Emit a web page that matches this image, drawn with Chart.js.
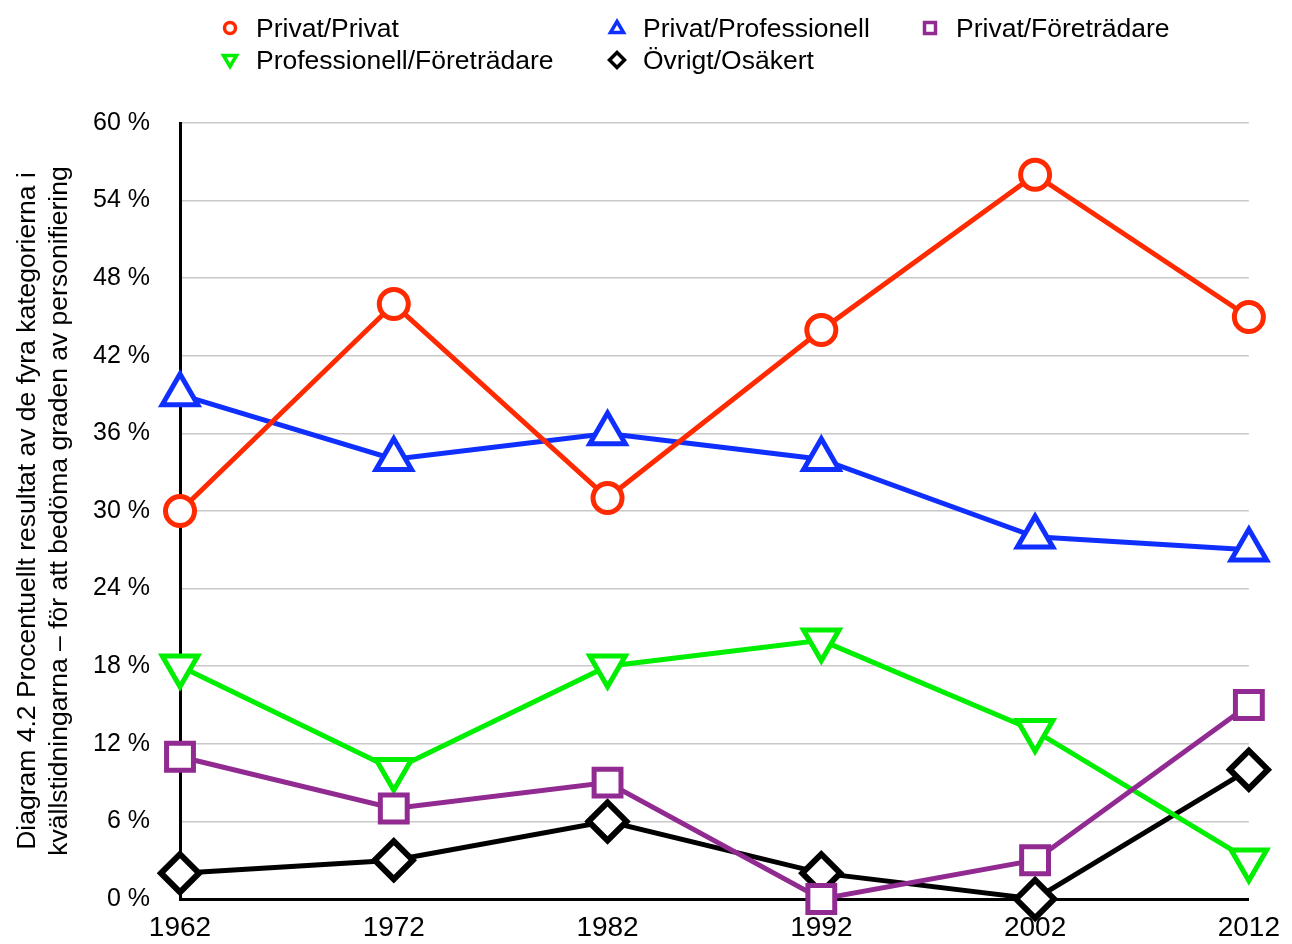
<!DOCTYPE html>
<html lang="sv">
<head>
<meta charset="utf-8">
<title>Diagram 4.2</title>
<script src="https://cdn.jsdelivr.net/npm/chart.js@4/dist/chart.umd.min.js"></script>
<style>
  html, body { margin: 0; padding: 0; background: #fff; }
  #wrap { position: relative; width: 1292px; height: 944px; overflow: hidden; }
  #chart { position: absolute; left: 0; top: 0; }
  #legend {
    position: absolute; left: 218px; top: 12px;
    display: grid; grid-template-columns: 387px 313px auto;
    grid-auto-rows: 32px;
    font-family: "Liberation Sans", Arial, Helvetica, sans-serif;
    font-size: 26.5px; color: #000;
  }
  .item { display: flex; align-items: center; white-space: nowrap; }
  .item svg { width: 24px; height: 24px; margin-right: 14px; flex: none; }
</style>
</head>
<body>
<div id="wrap">
  <canvas id="chart" width="1292" height="944"></canvas>
  <div id="legend"></div>
</div>
<script>
// Survey years on the x axis
const years = ['1962', '1972', '1982', '1992', '2002', '2012'];

// Share (%) per category and year
const privatPrivat             = [30, 46, 31, 44, 56, 45];
const privatProfessionell      = [39, 34, 36, 34, 28, 27];
const privatForetradare        = [11, 7, 9, 0, 3, 15];
const professionellForetradare = [18, 10, 18, 20, 13, 3];
const ovrigtOsakert            = [2, 3, 6, 2, 0, 10];

// Y axis range and step
const yMin = 0, yMax = 60, yStep = 6;

const axisTitle = [
  'Diagram 4.2 Procentuellt resultat av de fyra kategorierna i',
  'kvällstidningarna – för att bedöma graden av personifiering'
];

const FONT = '"Liberation Sans", Arial, Helvetica, sans-serif';

function series(label, data, color, style, radius, rotation, border) {
  return {
    label, data,
    borderColor: color,
    backgroundColor: color,
    borderWidth: 5,
    pointStyle: style,
    pointRadius: radius,
    pointHoverRadius: radius,
    pointRotation: rotation,
    pointBorderWidth: border,
    pointBackgroundColor: '#fff',
    pointBorderColor: color,
    tension: 0,
    clip: false,
    legendShape: style === 'triangle' && rotation === 180 ? 'down' : style
  };
}

const datasets = [
  series('Privat/Privat', privatPrivat, '#ff2a00', 'circle', 14.5, 0, 5),
  series('Privat/Professionell', privatProfessionell, '#0f2fff', 'triangle', 20.5, 0, 5),
  series('Privat/Företrädare', privatForetradare, '#912a91', 'rect', 19, 0, 5),
  series('Professionell/Företrädare', professionellForetradare, '#00ee00', 'triangle', 20.5, 180, 5),
  series('Övrigt/Osäkert', ovrigtOsakert, '#000000', 'rectRot', 19, 0, 6)
];

// Legend swatches
function swatch(shape, color) {
  let body = '';
  if (shape === 'circle') body = `<circle cx="12" cy="12" r="5.5" fill="#fff" stroke="${color}" stroke-width="3.5"/>`;
  else if (shape === 'triangle') body = `<polygon points="12,5.5 18.5,16.5 5.5,16.5" fill="#fff" stroke="${color}" stroke-width="3.5"/>`;
  else if (shape === 'down') body = `<polygon points="5.5,7.5 18.5,7.5 12,18.5" fill="#fff" stroke="${color}" stroke-width="3.5"/>`;
  else if (shape === 'rect') body = `<rect x="6.5" y="6.5" width="11" height="11" fill="#fff" stroke="${color}" stroke-width="3.5"/>`;
  else body = `<polygon points="12,4.5 19.5,12 12,19.5 4.5,12" fill="#fff" stroke="${color}" stroke-width="3.5"/>`;
  return `<svg viewBox="0 0 24 24">${body}</svg>`;
}
const legendEl = document.getElementById('legend');
datasets.forEach(ds => {
  const div = document.createElement('div');
  div.className = 'item';
  div.innerHTML = swatch(ds.legendShape, ds.borderColor) + '<span></span>';
  div.querySelector('span').textContent = ds.label;
  legendEl.appendChild(div);
});

new Chart(document.getElementById('chart'), {
  type: 'line',
  data: { labels: years, datasets },
  options: {
    responsive: false,
    animation: false,
    events: [],
    layout: { autoPadding: false, padding: { top: 123, right: 36, bottom: 0, left: 0 } },
    plugins: { legend: { display: false }, tooltip: { enabled: false } },
    scales: {
      x: {
        type: 'category',
        offset: false,
        grid: { display: false, drawTicks: false },
        border: { display: true, color: '#000', width: 3 },
        ticks: { color: '#000', padding: 12, maxRotation: 0, autoSkip: false,
                  font: { family: FONT, size: 28 } },
        afterFit: axis => { axis.height = 40; }
      },
      y: {
        min: yMin, max: yMax,
        grid: { color: '#c8c8c8', lineWidth: 1.5, drawTicks: false },
        border: { display: true, color: '#000', width: 3 },
        ticks: { stepSize: yStep, color: '#000', padding: 30,
                 font: { family: FONT, size: 25 },
                 callback: v => v + ' %' },
        title: { display: true, text: axisTitle, color: '#000',
                 font: { family: FONT, size: 26.5, lineHeight: 1.2 },
                 padding: { top: 12, bottom: 0 } },
        afterFit: axis => { axis.width = 180; }
      }
    }
  }
});
</script>
</body>
</html>
